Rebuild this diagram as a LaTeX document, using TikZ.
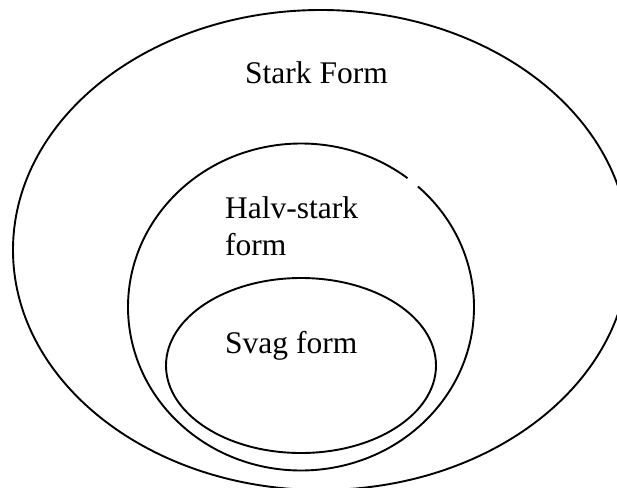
\documentclass[tikz,border=0pt]{standalone}
\usepackage{fontspec}
\setmainfont{Liberation Serif}
\begin{document}
\begin{tikzpicture}[x=1pt,y=-1pt,
  ring/.style={line width=1.9pt, black},
  lbl/.style={anchor=base west, inner sep=0pt, font=\fontsize{31.5}{37}\selectfont}]
\useasboundingbox (0,0) rectangle (617,487);
\clip (0,0) rectangle (617,487);
% outer ellipse
\draw[ring] (321,250) ellipse [x radius=308, y radius=240];
% middle ellipse with a small gap at upper right
\draw[ring] (301,307) ++(-47.5:173 and 163.5) arc [start angle=-47.5, end angle=308, x radius=173, y radius=163.5];
% inner ellipse
\draw[ring] (301,365.5) ellipse [x radius=135, y radius=87.5];
\node[lbl] (stark) at (245,83) {Stark Form};
\node[lbl] (halv) at (225,218) {Halv-stark};
\node[lbl] (halv2) at (225,255) {form};
\node[lbl] (svag) at (225,353) {Svag form};
\end{tikzpicture}
\end{document}
